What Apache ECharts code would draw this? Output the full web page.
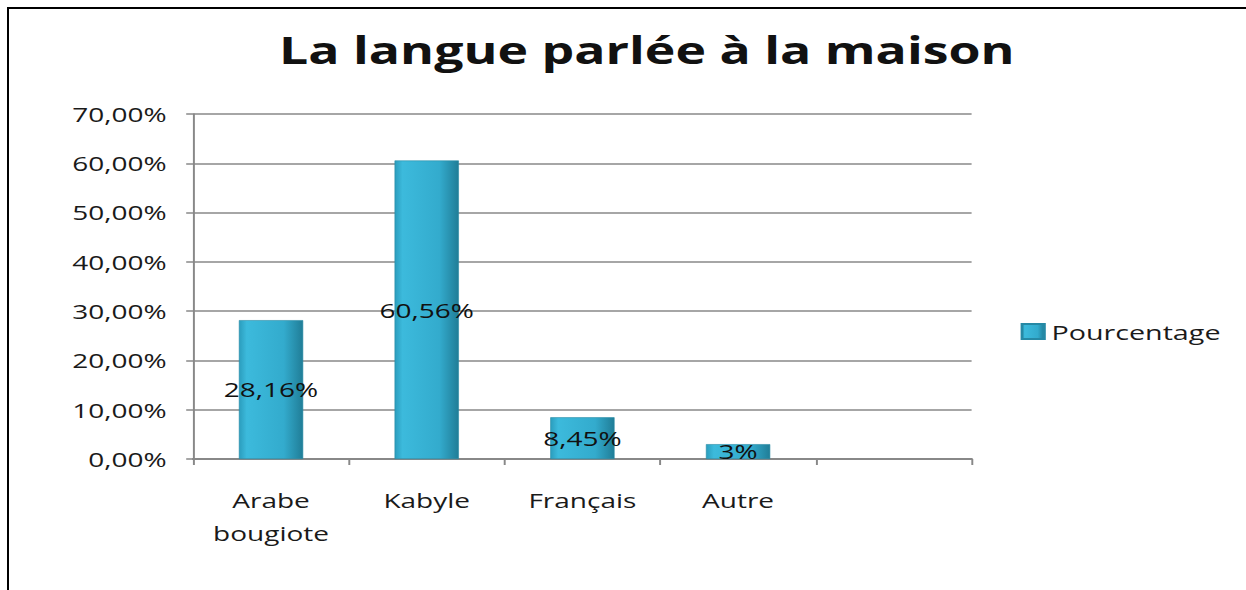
<!DOCTYPE html>
<html>
<head>
<meta charset="utf-8">
<script src="https://cdn.jsdelivr.net/npm/echarts@6/dist/echarts.min.js"></script>
<style>
    html, body { margin: 0; padding: 0; background: #fff; overflow: hidden; }
    #frame { position: absolute; left: 7px; top: 7px; width: 1300px; height: 700px;
             border-top: 2px solid #000; border-left: 2px solid #000; }
    /* the source picture is stretched sideways, so draw narrow and widen */
    #chart { position: absolute; left: 0; top: 0; width: 890px; height: 590px;
             transform: scaleX(1.4); transform-origin: 0 0; }
</style>
</head>
<body>
<div id="frame"></div>
<div id="chart"></div>
<script>
// ==========================================
// données
// ==========================================
const categories = ['Arabe\nbougiote', 'Kabyle', 'Français', 'Autre', ''];
const pourcentage = [28.16, 60.56, 8.45, 3, null];
const yTicks = [0, 10, 20, 30, 40, 50, 60, 70];

const font = "'Open Sans', sans-serif";
const fmtPct = v => String(v).replace('.', ',') + '%';

const chart = echarts.init(document.getElementById('chart'), null, { renderer: 'svg' });

const barColor = new echarts.graphic.LinearGradient(0, 0, 1, 0, [
    { offset: 0, color: '#2b9dbd' },
    { offset: 0.12, color: '#3cbadc' },
    { offset: 0.7, color: '#33abcd' },
    { offset: 1, color: '#207d97' }
]);

chart.setOption({
    animation: false,
    title: {
        text: 'La langue parlée à la maison',
        left: 457, top: 26, textAlign: 'center',
        textStyle: { fontFamily: font, fontSize: 37, fontWeight: 'bold', color: '#111' }
    },
    legend: {
        data: ['Pourcentage'],
        left: 724, top: 316,
        itemWidth: 16, itemHeight: 15, itemGap: 7,
        icon: 'rect',
        textStyle: { fontFamily: font, fontSize: 20.5, color: '#1a1a1a' }
    },
    grid: { left: 138, right: 196, top: 114, bottom: 131 },
    xAxis: {
        type: 'category',
        data: categories,
        axisLine: { lineStyle: { color: '#888', width: 2 } },
        axisTick: { show: true, length: 6, lineStyle: { color: '#888', width: 1.4 } },
        axisLabel: { fontFamily: font, fontSize: 20, color: '#1a1a1a', margin: 25, lineHeight: 33, interval: 0 }
    },
    yAxis: {
        type: 'value',
        min: yTicks[0], max: yTicks[yTicks.length - 1], interval: 10,
        axisLine: { show: true, lineStyle: { color: '#888', width: 1.4 } },
        axisTick: { show: true, length: 5, lineStyle: { color: '#888', width: 1.5 } },
        splitLine: { lineStyle: { color: '#888', width: 1.5 } },
        axisLabel: {
            fontFamily: font, fontSize: 20, color: '#1a1a1a', margin: 19,
            formatter: v => v.toFixed(2).replace('.', ',') + '%'
        }
    },
    series: [{
        name: 'Pourcentage',
        type: 'bar',
        data: pourcentage,
        barWidth: 46,
        itemStyle: { color: barColor, borderColor: '#2689a5', borderWidth: 0.5 },
        label: {
            show: true, position: 'inside',
            fontFamily: font, fontSize: 20, color: '#111',
            formatter: p => fmtPct(p.value)
        }
    }]
});
</script>
</body>
</html>
